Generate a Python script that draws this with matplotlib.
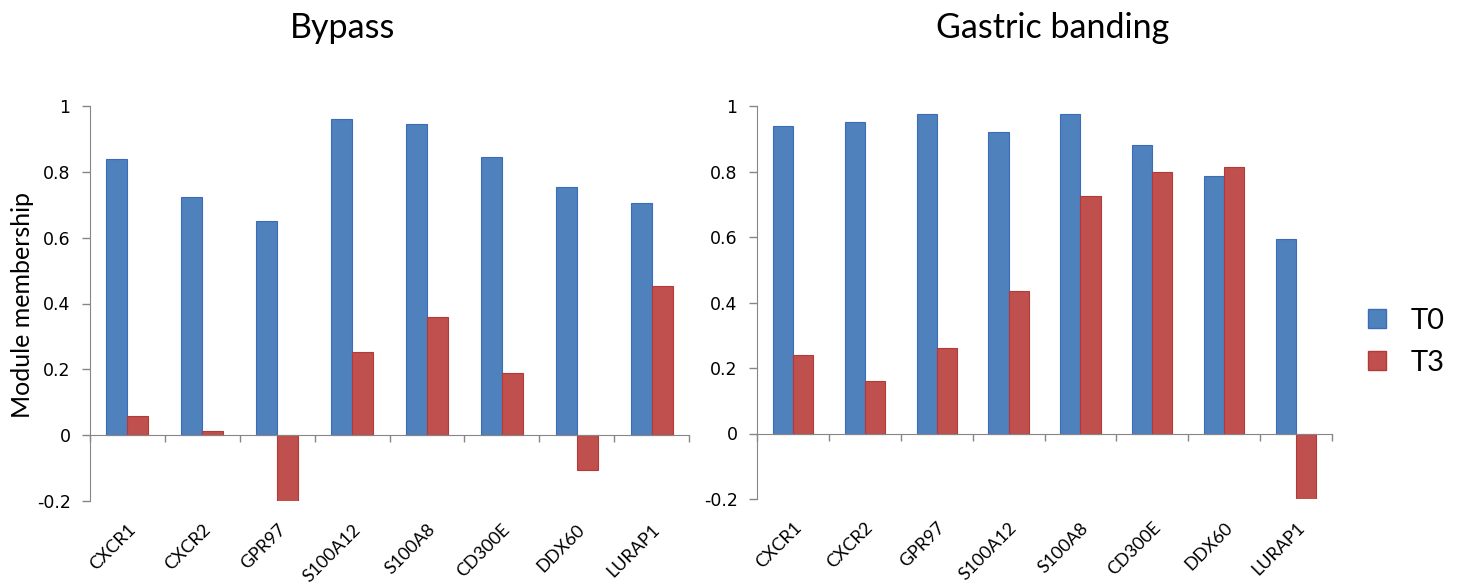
import numpy as np
import matplotlib.pyplot as plt
from matplotlib.patches import Patch

genes = ['CXCR1', 'CXCR2', 'GPR97', 'S100A12', 'S100A8', 'CD300E', 'DDX60', 'LURAP1']

# Bypass
bypass_t0 = [0.84, 0.725, 0.65, 0.96, 0.945, 0.846, 0.755, 0.705]
bypass_t3 = [0.059, 0.014, -0.206, 0.252, 0.358, 0.188, -0.106, 0.452]

# Gastric banding
band_t0 = [0.94, 0.95, 0.976, 0.92, 0.976, 0.88, 0.785, 0.595]
band_t3 = [0.241, 0.16, 0.261, 0.436, 0.726, 0.80, 0.815, -0.206]

yticks = [-0.2, 0, 0.2, 0.4, 0.6, 0.8, 1]
ytick_labels = ['-0.2', '0', '0.2', '0.4', '0.6', '0.8', '1']

blue = '#4f81bd'
red = '#c0504d'
blue_edge = '#3a6db8'
red_edge = '#b33a37'
gray = '#868686'

W, H = 1461, 584
fig = plt.figure(figsize=(W / 100, H / 100), dpi=100)


def px_axes(x0, x1, y0, y1):
    # axes rectangle from pixel coords (top-left origin)
    return fig.add_axes([x0 / W, 1 - y1 / H, (x1 - x0) / W, (y1 - y0) / H])


def draw(ax, t0, t3):
    x = np.arange(len(genes))
    w = 0.28
    ax.bar(x - w / 2, t0, w, color=blue, edgecolor=blue_edge, linewidth=0.8, zorder=2)
    ax.bar(x + w / 2, t3, w, color=red, edgecolor=red_edge, linewidth=0.8, zorder=2)
    ax.set_xlim(-0.5, len(genes) - 0.5)
    ax.set_ylim(-0.2, 1)

    for s in ['top', 'right']:
        ax.spines[s].set_visible(False)
    ax.spines['left'].set_color(gray)
    ax.spines['bottom'].set_color(gray)
    ax.spines['bottom'].set_position(('data', 0))
    ax.spines['bottom'].set_zorder(3)

    ax.set_yticks(yticks)
    ax.set_yticklabels(ytick_labels, fontsize=12.5, family='DejaVu Sans')
    ax.tick_params(axis='y', length=6, width=1, color=gray, pad=8)

    # tick marks between categories, labels at the centers
    ax.set_xticks(np.arange(len(genes) + 1) - 0.5)
    ax.set_xticklabels([])
    ax.tick_params(axis='x', which='major', length=5, width=1, color=gray)
    ax.set_xticks(x, minor=True)
    ax.set_xticklabels(genes, minor=True, rotation=45, ha='right', va='top',
                       rotation_mode='anchor', fontsize=13, family='Lato')
    ax.tick_params(axis='x', which='minor', length=0, pad=62)


ax1 = px_axes(90, 689, 106, 501)
draw(ax1, bypass_t0, bypass_t3)

ax2 = px_axes(757, 1332, 106, 499)
draw(ax2, band_t0, band_t3)

fig.text(343 / W, 1 - 38 / H, 'Bypass', ha='center', va='baseline',
         fontsize=24.5, family='Lato')
fig.text(1053 / W, 1 - 38 / H, 'Gastric banding', ha='center', va='baseline',
         fontsize=24.5, family='Lato')
fig.text(23 / W, 1 - 305 / H, 'Module membership', ha='center', va='center',
         rotation=90, fontsize=18, family='Lato')

handles = [Patch(facecolor=blue, edgecolor=blue_edge, label='T0'),
           Patch(facecolor=red, edgecolor=red_edge, label='T3')]
fig.legend(handles=handles, loc='center left', bbox_to_anchor=(1368 / W, 1 - 342 / H),
           frameon=False, borderaxespad=0, borderpad=0,
           prop={'family': 'Lato', 'size': 21},
           handlelength=0.62, handleheight=0.62, handletextpad=0.85, labelspacing=0.55)

fig.savefig('out.png', dpi=100)
